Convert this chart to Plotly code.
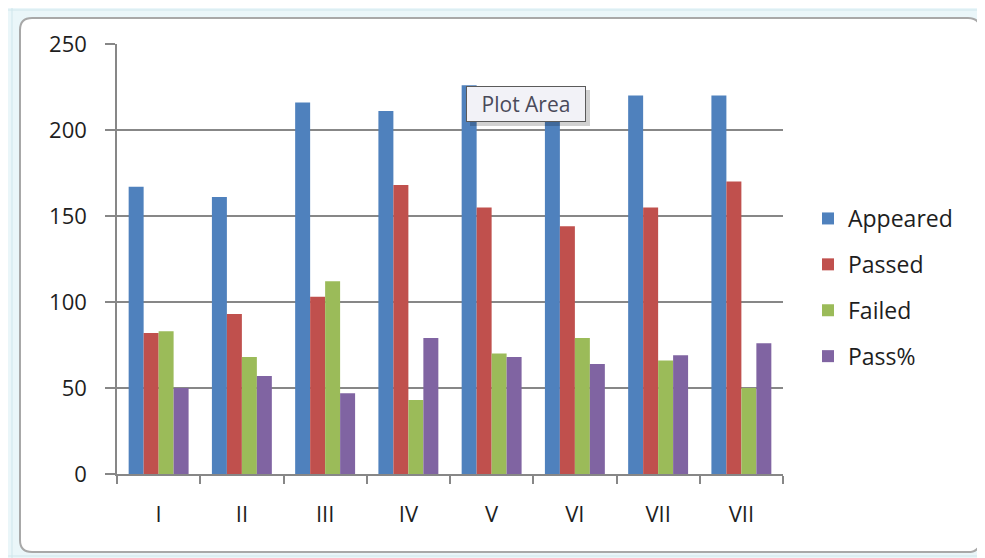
import plotly.graph_objects as go

categories = ["I", "II", "III", "IV", "V", "VI", "VII", "VII"]
appeared = [167, 161, 216, 211, 226, 223, 220, 220]
passed = [82, 93, 103, 168, 155, 144, 155, 170]
failed = [83, 68, 112, 43, 70, 79, 66, 50]
pass_pct = [50, 57, 47, 79, 68, 64, 69, 76]
series_names = ["Appeared", "Passed", "Failed", "Pass%"]
colors = ["#4f81bd", "#c0504d", "#9bbb59", "#8064a2"]

OFF = 8  # page body margin
W, H = 985 - OFF, 558 - OFF
L, R, T, B = 117 - OFF, 783 - OFF, 44 - OFF, 474 - OFF
PW, PH = R - L, B - T


def fx(sx):
    return (sx - OFF - L) / PW


def fy(sy):
    return (B - (sy - OFF)) / PH


xpos = list(range(len(categories)))
FONT = "Open Sans"
TXT = "#1e1e1e"
GRID = "#878787"

fig = go.Figure()
for name, vals, col in zip(series_names, [appeared, passed, failed, pass_pct], colors):
    fig.add_trace(go.Bar(name=name, x=xpos, y=vals, marker=dict(color=col, line=dict(width=0)),
                         legendgroup=name))


def rounded_rect(x0, y0, x1, y1, r):
    rx, ry = r / PW, r / PH
    X0, X1 = fx(x0), fx(x1)
    Y0, Y1 = fy(y0), fy(y1)
    return (f"M{X0 + rx},{Y0} L{X1 - rx},{Y0} Q{X1},{Y0} {X1},{Y0 - ry} "
            f"L{X1},{Y1 + ry} Q{X1},{Y1} {X1 - rx},{Y1} L{X0 + rx},{Y1} "
            f"Q{X0},{Y1} {X0},{Y1 + ry} L{X0},{Y0 - ry} Q{X0},{Y0} {X0 + rx},{Y0} Z")


shapes = []
for gx in [12, 983]:
    shapes.append(dict(type="line", xref="paper", yref="paper", x0=fx(gx), x1=fx(gx), y0=fy(0), y1=fy(558),
                       line=dict(color="#cfe6ec", width=1), layer="below"))
for gy in [10, 556]:
    shapes.append(dict(type="line", xref="paper", yref="paper", x0=fx(0), x1=fx(985), y0=fy(gy), y1=fy(gy),
                       line=dict(color="#cfe6ec", width=1), layer="below"))
shapes.append(dict(type="path", xref="paper", yref="paper", path=rounded_rect(20, 18, 980, 552, 12),
                   fillcolor="white", line=dict(color="#a8a8a8", width=2), layer="below"))
# tooltip shadow
shapes.append(dict(type="rect", xref="paper", yref="paper", x0=fx(470), x1=fx(590), y0=fy(90), y1=fy(126),
                   fillcolor="rgba(0,0,0,0.18)", line=dict(width=0), layer="above"))

fig.update_layout(
    width=W, height=H,
    margin=dict(l=L, r=W - R, t=T, b=H - B, autoexpand=False),
    paper_bgcolor="#eaf6f9",
    plot_bgcolor="rgba(0,0,0,0)",
    barmode="group", bargap=0.28, bargroupgap=0,
    font=dict(family=FONT, size=22, color=TXT),
    shapes=shapes,
    showlegend=True,
    legend=dict(x=fx(808), y=fy(197), xanchor="left", yanchor="top",
                font=dict(family=FONT, size=23, color=TXT),
                traceorder="grouped", tracegroupgap=13, bgcolor="rgba(0,0,0,0)"),
    annotations=[dict(text="Plot Area", xref="paper", yref="paper", x=fx(526), y=fy(104),
                      xanchor="center", yanchor="middle", width=116, height=32,
                      showarrow=False, font=dict(family=FONT, size=21, color="#4a4a5a"),
                      bgcolor="#f2f2f7", bordercolor="#5a5a5a", borderwidth=1, borderpad=1)],
    xaxis=dict(range=[-0.5, len(categories) - 0.5], tickmode="array", tickvals=xpos, ticktext=categories,
               ticks="", showgrid=False, zeroline=False, showline=True, linecolor=GRID, linewidth=1.5,
               ticklabelstandoff=20, tickfont=dict(family=FONT, size=22, color=TXT),
               minor=dict(ticks="outside", ticklen=8, tickcolor=GRID, tickwidth=1.5,
                          tickmode="linear", tick0=-0.5, dtick=1, showgrid=False)),
    yaxis=dict(range=[0, 250], tickmode="linear", tick0=0, dtick=50, showgrid=True, gridcolor=GRID,
               gridwidth=1.5, zeroline=False, showline=True, linecolor=GRID, linewidth=1.5,
               ticks="outside", ticklen=10, tickcolor=GRID, tickwidth=1.5, ticklabelstandoff=14,
               tickfont=dict(family=FONT, size=22, color=TXT)),
)

fig.write_html("out.html")
